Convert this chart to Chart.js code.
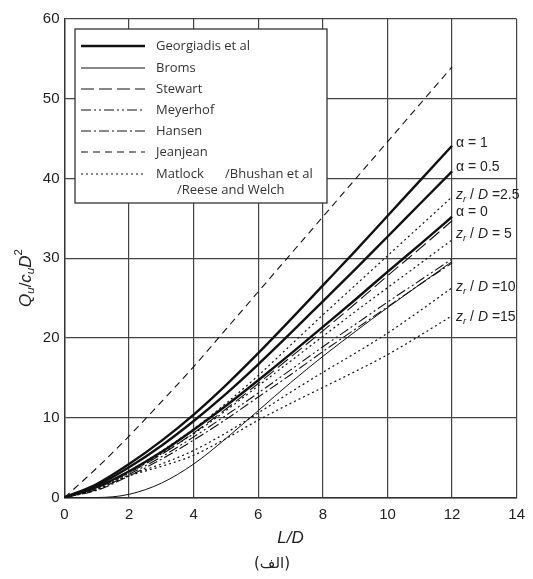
<!DOCTYPE html>
<html>
<head>
<meta charset="utf-8">
<script src="https://cdn.jsdelivr.net/npm/chart.js@4.4.1/dist/chart.umd.min.js"></script>
<style>
  html, body { margin: 0; padding: 0; background: #fff; }
  #wrap { width: 533px; height: 579px; }
</style>
</head>
<body>
<div id="wrap"><canvas id="myChart" width="533" height="579"></canvas></div>
<script>
// L/D values where every curve is read
const ldValues = [0, 1, 2, 3, 4, 5, 6, 7, 8, 9, 10, 11, 12];

// Georgiadis et al
const georgAlpha1 = [0, 1.7, 4.2, 7.1, 10.4, 14.1, 18.1, 22.3, 26.6, 30.9, 35.3, 39.7, 44.1];
const georgAlpha05 = [0, 1.5, 3.8, 6.5, 9.6, 13.0, 16.7, 20.6, 24.6, 28.6, 32.7, 36.8, 40.9];
const georgAlpha0 = [0, 1.3, 3.3, 5.7, 8.5, 11.5, 14.7, 18.0, 21.4, 24.8, 28.3, 31.7, 35.2];
// other methods
const bromsVals = [0, 0, 0.4, 1.8, 4.2, 7.4, 10.9, 14.4, 17.7, 20.8, 23.8, 26.7, 29.6];
const stewartVals = [0, 1.2, 3.1, 5.4, 8.1, 11.1, 14.3, 17.6, 20.9, 24.3, 27.8, 31.2, 34.7];
const meyerhofVals = [0, 1.0, 2.9, 5.1, 7.6, 10.3, 13.1, 16.0, 18.9, 21.7, 24.5, 27.2, 29.9];
const hansenVals = [0, 0.9, 2.7, 4.8, 7.2, 9.8, 12.6, 15.4, 18.3, 21.1, 23.9, 26.7, 29.4];
const jeanjeanVals = [0, 3.7, 7.7, 12.0, 16.4, 21.1, 25.8, 30.5, 35.2, 39.9, 44.6, 49.3, 54.0];
// Matlock / Bhushan et al / Reese and Welch
const matlockZ25 = [0, 1.3, 3.3, 5.8, 8.6, 11.8, 15.3, 19.1, 22.9, 26.6, 30.3, 34.0, 37.7];
const matlockZ5 = [0, 1.2, 3.1, 5.5, 8.0, 10.9, 14.0, 17.1, 20.2, 23.3, 26.3, 29.3, 32.3];
const matlockZ10 = [0, 1.1, 2.8, 4.2, 5.9, 8.1, 10.6, 13.2, 15.7, 18.1, 20.6, 23.4, 26.3];
const matlockZ15 = [0, 1.0, 2.7, 3.9, 5.3, 7.4, 9.7, 11.8, 13.8, 15.8, 17.9, 20.3, 22.8];

const xTicks = [0, 2, 4, 6, 8, 10, 12, 14];
const yTicks = [0, 10, 20, 30, 40, 50, 60];

const legendNames = ['Georgiadis et al', 'Broms', 'Stewart', 'Meyerhof', 'Hansen', 'Jeanjean', 'Matlock'];

// line looks per method
const styles = {
  'Georgiadis et al': { w: 2.4, dash: [] },
  'Broms': { w: 1, dash: [] },
  'Stewart': { w: 1.1, dash: [13, 5] },
  'Meyerhof': { w: 1.1, dash: [10, 3, 2, 3, 2, 3] },
  'Hansen': { w: 1.1, dash: [10, 3, 2, 3] },
  'Jeanjean': { w: 1.1, dash: [7, 5] },
  'Matlock': { w: 1.2, dash: [2, 3] }
};

function pts(vals) {
  return vals.map((v, i) => ({ x: ldValues[i], y: v }));
}

function makeSet(method, vals, endLabel) {
  const s = styles[method];
  return {
    label: method,
    endLabel: endLabel,
    data: pts(vals),
    borderColor: '#111',
    borderWidth: s.w,
    borderDash: s.dash,
    pointRadius: 0,
    fill: false,
    cubicInterpolationMode: 'monotone'
  };
}

const datasets = [
  makeSet('Jeanjean', jeanjeanVals),
  makeSet('Broms', bromsVals),
  makeSet('Hansen', hansenVals),
  makeSet('Meyerhof', meyerhofVals),
  makeSet('Stewart', stewartVals),
  makeSet('Matlock', matlockZ15, ['z', '15']),
  makeSet('Matlock', matlockZ10, ['z', '10']),
  makeSet('Matlock', matlockZ5, ['z', ' 5']),
  makeSet('Matlock', matlockZ25, ['z', '2.5']),
  makeSet('Georgiadis et al', georgAlpha0, ['a', '0']),
  makeSet('Georgiadis et al', georgAlpha05, ['a', '0.5']),
  makeSet('Georgiadis et al', georgAlpha1, ['a', '1'])
];

// draws pieces of text with italic / sub / sup parts, left to right
function drawRich(ctx, parts, x, y, size) {
  parts.forEach(p => {
    let fs = size, dy = 0;
    if (p.sub) { fs = size * 0.68; dy = size * 0.3; }
    if (p.sup) { fs = size * 0.68; dy = -size * 0.42; }
    ctx.font = (p.it ? 'italic ' : '') + fs + 'px "Liberation Sans", Arial, sans-serif';
    ctx.fillText(p.t, x, y + dy);
    x += ctx.measureText(p.t).width;
  });
  return x;
}

const extras = {
  id: 'extras',
  afterDraw(chart) {
    const ctx = chart.ctx;
    const xs = chart.scales.x;
    ctx.save();
    ctx.fillStyle = '#222';
    ctx.textBaseline = 'middle';
    ctx.textAlign = 'left';

    // curve end labels
    const labelY = { 'a1': 143, 'a0.5': 167, 'z2.5': 195, 'a0': 212, 'z 5': 234, 'z10': 287, 'z15': 317 };
    chart.data.datasets.forEach(ds => {
      if (!ds.endLabel) return;
      const key = ds.endLabel[0] + ds.endLabel[1];
      const x0 = xs.getPixelForValue(12) + 4;
      const y0 = labelY[key];
      if (ds.endLabel[0] === 'a') {
        drawRich(ctx, [{ t: 'α = ' + ds.endLabel[1] }], x0, y0, 14);
      } else {
        drawRich(ctx, [{ t: 'z', it: true }, { t: 'r', it: true, sub: true }, { t: ' / ' }, { t: 'D', it: true },
          { t: (ds.endLabel[1] === ' 5' ? ' = 5' : ' =' + ds.endLabel[1]) }], x0, y0, 14);
      }
    });

    // legend box
    const bx = 75, by = 29, bw = 252, bh = 174;
    ctx.fillStyle = '#fff';
    ctx.fillRect(bx, by, bw, bh);
    ctx.strokeStyle = '#333';
    ctx.lineWidth = 1.3;
    ctx.strokeRect(bx, by, bw, bh);
    const rowY = [46, 68, 89, 110, 131, 152, 174];
    legendNames.forEach((name, i) => {
      const s = styles[name];
      ctx.beginPath();
      ctx.setLineDash(s.dash);
      ctx.lineWidth = s.w;
      ctx.strokeStyle = '#111';
      ctx.moveTo(81, rowY[i]);
      ctx.lineTo(145, rowY[i]);
      ctx.stroke();
      ctx.setLineDash([]);
      ctx.fillStyle = '#333';
      ctx.font = '13px "Open Sans", sans-serif';
      ctx.fillText(name, 156, rowY[i]);
    });
    ctx.font = '13px "Open Sans", sans-serif';
    ctx.fillText('/Bhushan et al', 225, 174);
    ctx.fillText('/Reese and Welch', 177, 190);

    // axis titles
    ctx.fillStyle = '#222';
    ctx.textAlign = 'center';
    ctx.font = 'italic 17px "Liberation Sans", Arial, sans-serif';
    ctx.fillText('L/D', xs.getPixelForValue(7), 538);
    ctx.font = '15px "DejaVu Sans", sans-serif';
    ctx.fillText('(الف)', 272, 564);

    ctx.translate(26, 278);
    ctx.rotate(-Math.PI / 2);
    ctx.textAlign = 'left';
    const title = [{ t: 'Q', it: true }, { t: 'u', it: true, sub: true }, { t: '/' }, { t: 'c', it: true },
      { t: 'u', it: true, sub: true }, { t: 'D', it: true }, { t: '2', sup: true }];
    // measure first so the title is centred
    let wsum = 0;
    title.forEach(p => {
      const fs = (p.sub || p.sup) ? 17 * 0.68 : 17;
      ctx.font = (p.it ? 'italic ' : '') + fs + 'px "Liberation Sans", Arial, sans-serif';
      wsum += ctx.measureText(p.t).width;
    });
    drawRich(ctx, title, -wsum / 2, 0, 17);
    ctx.restore();
  }
};

const ctx = document.getElementById('myChart');
new Chart(ctx, {
  type: 'line',
  data: { datasets: datasets },
  plugins: [extras],
  options: {
    responsive: false,
    animation: false,
    layout: { padding: { top: 19, right: 9, left: 0, bottom: 0 } },
    plugins: {
      legend: { display: false },
      tooltip: { enabled: false }
    },
    scales: {
      x: {
        type: 'linear',
        min: 0,
        max: 14,
        afterBuildTicks: axis => { axis.ticks = xTicks.map(v => ({ value: v })); },
        afterFit: axis => { axis.height = 81.5; },
        ticks: { color: '#222', font: { size: 15, family: '"Liberation Sans", Arial, sans-serif' }, padding: 8, maxRotation: 0 },
        grid: { color: '#444', lineWidth: 1.2, drawTicks: false },
        border: { color: '#333', width: 1.4 }
      },
      y: {
        min: 0,
        max: 60,
        afterBuildTicks: axis => { axis.ticks = yTicks.map(v => ({ value: v })); },
        afterFit: axis => { axis.width = 64.5; },
        ticks: { color: '#222', font: { size: 15, family: '"Liberation Sans", Arial, sans-serif' }, padding: 5 },
        grid: { color: '#444', lineWidth: 1.2, drawTicks: false },
        border: { color: '#333', width: 1.4 }
      }
    }
  }
});
</script>
</body>
</html>
